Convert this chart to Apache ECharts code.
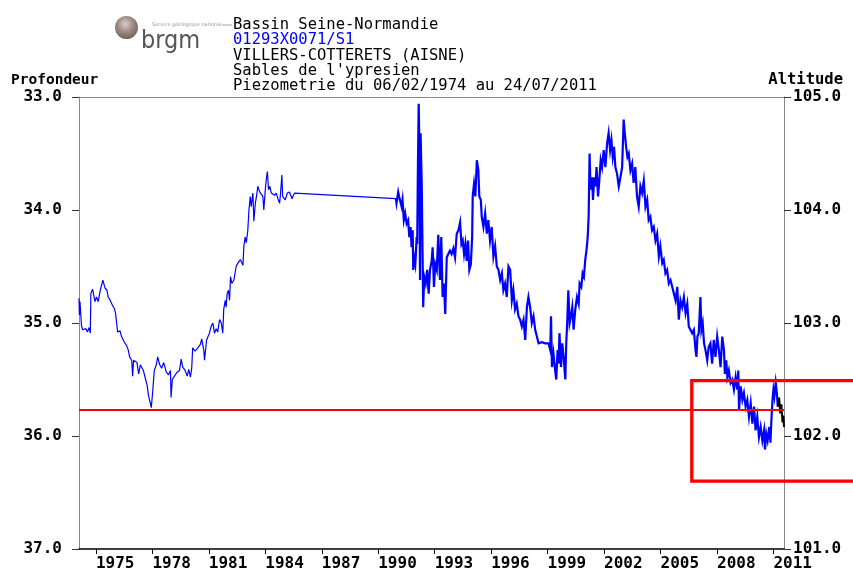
<!DOCTYPE html>
<html><head><meta charset="utf-8">
<script src="https://cdn.jsdelivr.net/npm/echarts@6/dist/echarts.min.js"></script>
<style>html,body{margin:0;padding:0;background:#fff}#c{width:853px;height:572px}</style>
</head><body><div id="c"></div>
<script>
// ---- data (decimal year, depth in m) ----
const years = [
1974.10,1974.12,1974.15,1974.20,1974.23,1974.29,1974.47,1974.55,1974.64,1974.70,1974.73,1974.82,1974.95,1975.03,1975.12,1975.23,1975.37,1975.48,1975.59,1975.65,1975.76,1975.87,1975.97,1976.04,1976.10,1976.15,1976.28,1976.36,1976.51,1976.63,1976.72,1976.79,1976.90,1976.95,1977.00,1977.18,1977.27,1977.36,1977.52,1977.61,1977.72,1977.79,1977.89,1977.94,1978.01,1978.10,1978.21,1978.28,1978.39,1978.49,1978.60,1978.73,1978.85,1978.96,1978.99,1979.06,1979.17,1979.29,1979.44,1979.53,1979.61,1979.74,1979.85,1979.93,1980.02,1980.09,1980.14,1980.27,1980.41,1980.55,1980.62,1980.73,1980.77,
1980.88,1981.03,1981.12,1981.21,1981.30,1981.39,1981.47,1981.57,1981.66,1981.74,1981.79,1981.87,1981.92,1981.97,1982.04,1982.10,1982.15,1982.22,1982.33,1982.45,1982.54,1982.68,1982.81,1982.86,1982.93,1982.99,1983.07,1983.13,1983.20,1983.25,1983.34,1983.39,1983.47,1983.54,1983.60,1983.70,1983.79,1983.87,1983.92,1984.00,1984.05,1984.11,1984.17,1984.24,1984.32,1984.42,1984.49,1984.58,1984.67,1984.76,1984.81,1984.88,1984.92,1984.99,1985.06,1985.17,1985.28,1985.35,1985.42,1985.49,1985.56,1990.94,
1990.97,1991.06,1991.11,1991.19,1991.24,1991.29,1991.36,1991.43,1991.51,1991.59,1991.65,1991.72,1991.77,1991.83,1991.86,1991.91,1991.97,1992.00,1992.04,1992.07,1992.11,1992.15,1992.18,1992.22,1992.25,1992.31,1992.34,1992.39,1992.44,1992.52,1992.60,1992.68,1992.75,1992.84,1992.89,1992.96,1993.03,1993.11,1993.19,1993.28,1993.35,1993.42,1993.49,1993.56,1993.64,1993.72,1993.81,1993.90,1993.99,1994.08,1994.17,1994.26,1994.35,1994.42,1994.49,1994.56,1994.63,1994.70,1994.77,1994.84,1994.92,1994.99,1995.02,1995.09,1995.16,1995.24,
1995.32,1995.37,1995.45,1995.50,1995.59,1995.68,1995.77,1995.85,1995.94,1996.03,1996.12,1996.21,1996.30,1996.39,1996.48,1996.57,1996.65,1996.74,1996.83,1996.92,1997.01,1997.10,1997.18,1997.27,1997.36,1997.45,1997.54,1997.63,1997.72,1997.81,1997.90,1997.98,1998.07,1998.16,1998.25,1998.34,1998.43,1998.52,1998.70,1998.87,1999.05,1999.14,1999.18,1999.23,1999.31,1999.40,1999.46,1999.53,1999.58,1999.63,1999.71,1999.78,1999.85,1999.94,1999.99,2000.04,2000.10,2000.17,2000.24,2000.31,2000.38,2000.47,2000.56,2000.65,2000.70,
2000.79,2000.86,2000.93,2001.00,2001.07,2001.13,2001.18,2001.23,2001.28,2001.36,2001.41,2001.48,2001.54,2001.60,2001.68,2001.75,2001.82,2001.89,2001.98,2002.07,2002.16,2002.24,2002.32,2002.39,2002.46,2002.53,2002.60,2002.69,2002.78,2002.87,2002.96,2003.04,2003.10,2003.17,2003.24,2003.31,2003.40,2003.49,2003.57,2003.66,2003.75,2003.84,2003.93,2004.02,2004.11,2004.20,2004.29,2004.37,2004.46,2004.55,2004.64,2004.73,2004.82,2004.91,2004.99,2005.09,2005.17,2005.26,2005.35,2005.44,2005.53,2005.62,2005.71,2005.80,2005.89,2005.97,2006.06,2006.15,2006.24,2006.33,2006.42,2006.50,
2006.59,2006.68,2006.77,2006.86,2006.91,2006.96,2007.03,2007.12,2007.17,2007.24,2007.31,2007.39,2007.48,2007.56,2007.65,2007.74,2007.83,2007.92,2008.01,2008.10,2008.19,2008.28,2008.37,2008.42,2008.49,2008.55,2008.63,2008.72,2008.81,2008.90,2008.99,2009.08,2009.13,2009.17,2009.26,2009.35,2009.43,2009.52,2009.61,2009.70,2009.79,2009.88,2009.97,2010.05,2010.14,2010.23,2010.32,2010.41,2010.50,2010.55,2010.62,2010.69,2010.78,2010.84,2010.89,2010.95,2011.00,2011.05,2011.12,2011.18,2011.23
];
const depths = [
34.78,34.93,34.81,34.94,35.02,35.06,35.05,35.08,35.04,35.09,34.74,34.70,34.81,34.77,34.81,34.71,34.62,34.69,34.71,34.77,34.80,34.84,34.87,34.91,35.00,35.08,35.07,35.12,35.17,35.20,35.24,35.30,35.33,35.47,35.33,35.35,35.45,35.37,35.42,35.48,35.55,35.64,35.71,35.75,35.62,35.42,35.37,35.30,35.37,35.40,35.35,35.43,35.46,35.42,35.66,35.50,35.47,35.44,35.42,35.32,35.39,35.42,35.47,35.41,35.48,35.40,35.22,35.25,35.22,35.19,35.14,35.24,35.33,
35.15,35.09,35.03,35.00,35.09,35.05,35.08,34.97,35.00,35.09,34.88,34.80,34.86,34.74,34.71,34.80,34.59,34.65,34.62,34.50,34.47,34.44,34.49,34.32,34.24,34.29,34.18,34.00,33.88,33.97,33.85,34.10,33.94,33.87,33.79,33.84,33.85,33.88,34.00,33.82,33.73,33.66,33.82,33.79,33.85,33.84,33.87,33.85,33.90,33.94,33.85,33.69,33.88,33.87,33.91,33.85,33.84,33.87,33.90,33.87,33.85,33.90,
33.94,33.84,33.88,33.87,33.97,33.91,34.09,34.03,34.12,34.09,34.24,34.15,34.33,34.18,34.53,34.42,34.48,34.39,34.24,34.30,33.59,33.06,33.38,34.62,33.32,33.77,34.18,34.86,34.59,34.65,34.53,34.74,34.53,34.45,34.33,34.68,34.48,34.53,34.22,34.62,34.24,34.77,34.65,34.92,34.42,34.39,34.36,34.39,34.34,34.42,34.21,34.18,34.11,34.30,34.27,34.39,34.30,34.45,34.27,34.53,34.48,34.24,33.88,33.77,33.88,33.56,
33.65,33.88,33.91,34.06,34.15,34.03,34.21,34.09,34.27,34.15,34.41,34.32,34.50,34.53,34.62,34.56,34.71,34.65,34.77,34.50,34.53,34.80,34.71,34.88,34.83,34.94,34.97,35.03,34.97,35.15,34.86,34.77,34.86,35.00,34.94,35.06,35.12,35.18,35.17,35.18,35.18,35.24,34.94,35.39,35.27,35.42,35.50,35.24,35.36,35.09,35.39,35.18,35.30,35.50,35.18,35.00,34.71,35.00,34.94,34.86,35.06,34.88,34.77,34.83,34.65,
34.68,34.56,34.59,34.44,34.35,34.24,34.06,33.50,33.82,33.71,33.91,33.71,33.79,33.62,33.88,33.73,33.56,33.62,33.47,33.62,33.41,33.32,33.47,33.38,33.53,33.44,33.62,33.68,33.79,33.71,33.62,33.20,33.32,33.44,33.53,33.50,33.65,33.59,33.76,33.62,33.88,33.97,33.79,33.85,33.74,33.97,33.91,34.09,34.06,34.18,34.15,34.27,34.21,34.41,34.32,34.47,34.44,34.56,34.53,34.65,34.62,34.68,34.74,34.80,34.68,34.97,34.80,34.86,34.77,34.91,34.83,35.03,
35.03,35.09,35.06,35.24,35.30,35.12,35.09,34.77,35.06,35.00,35.18,35.24,35.33,35.21,35.18,35.36,35.15,35.30,35.12,35.24,35.39,35.12,35.24,35.45,35.33,35.48,35.42,35.53,35.50,35.59,35.48,35.59,35.42,35.77,35.56,35.68,35.62,35.74,35.68,35.83,35.71,35.89,35.74,35.95,35.83,36.01,35.92,36.04,35.95,36.12,35.98,36.04,35.92,36.06,35.86,35.68,35.59,35.65,35.53,35.62,35.74
];
// latest (provisional) measurements drawn in black
const recentYears  = [2011.23,2011.30,2011.36,2011.42,2011.48,2011.53,2011.56];
const recentDepths = [35.74,35.66,35.80,35.72,35.88,35.82,35.92];

const yearTicks = [1975,1978,1981,1984,1987,1990,1993,1996,1999,2002,2005,2008,2011];
const depthRange = [33, 37];
const altitudeRange = [101, 105];
const refDepth = 35.77;
const denseFrom = 1990.94; // start of the daily (dense) record
const zoomBox = { fromYear: 2006.66, toYear: 2016, depthTop: 35.51, depthBottom: 36.40 };

const headerLines = [
  { text: 'Bassin Seine-Normandie', color: '#000' },
  { text: '01293X0071/S1', color: '#0000ff' },
  { text: 'VILLERS-COTTERETS (AISNE)', color: '#000' },
  { text: "Sables de l'ypresien", color: '#000' },
  { text: 'Piezometrie du 06/02/1974 au 24/07/2011', color: '#000' }
];

const MONO = '"DejaVu Sans Mono", monospace';
const chart = echarts.init(document.getElementById('c'), null, { renderer: 'canvas' });

const allData = years.map((y, i) => [y, depths[i]]);
const sparseData = allData.filter(d => d[0] <= denseFrom);
const denseData = allData.filter(d => d[0] >= denseFrom);
const recentData = recentYears.map((y, i) => [y, recentDepths[i]]);

const labelStyle = { color: '#000', fontFamily: MONO, fontWeight: 'bold', fontSize: 16 };

chart.setOption({
  animation: false,
  backgroundColor: '#fff',
  grid: { left: 79, right: 69, top: 97, bottom: 23 },
  xAxis: [{
    type: 'value', position: 'bottom', min: 1974.1, max: 2011.56,
    axisLine: { show: true, onZero: false, lineStyle: { color: '#000', width: 1.5 } },
    axisTick: { show: true, customValues: yearTicks, length: 5, lineStyle: { color: '#000' } },
    axisLabel: Object.assign({ customValues: yearTicks, align: 'left', margin: 7, formatter: v => String(Math.round(v)) }, labelStyle),
    splitLine: { show: false }
  }, {
    type: 'value', position: 'top', min: 1974.1, max: 2011.56,
    axisLine: { show: true, onZero: false, lineStyle: { color: '#888' } },
    axisTick: { show: false }, axisLabel: { show: false }, splitLine: { show: false }
  }],
  yAxis: [{
    type: 'value', position: 'left', inverse: true, min: depthRange[0], max: depthRange[1], interval: 1,
    axisLine: { show: true, onZero: false, lineStyle: { color: '#888' } },
    axisTick: { show: true, length: 7, lineStyle: { color: '#333' } },
    axisLabel: Object.assign({ margin: 17, formatter: v => v.toFixed(1) }, labelStyle),
    splitLine: { show: false }
  }, {
    type: 'value', position: 'right', min: altitudeRange[0], max: altitudeRange[1], interval: 1,
    axisLine: { show: true, onZero: false, lineStyle: { color: '#888' } },
    axisTick: { show: true, length: 7, lineStyle: { color: '#333' } },
    axisLabel: Object.assign({ margin: 9, formatter: v => v.toFixed(1) }, labelStyle),
    splitLine: { show: false }
  }],
  series: [{
    name: 'Profondeur', type: 'line', xAxisIndex: 0, yAxisIndex: 0,
    data: sparseData, showSymbol: false, symbol: 'none',
    lineStyle: { color: '#0000ff', width: 1.2 },
    markLine: {
      silent: true, symbol: 'none', label: { show: false },
      lineStyle: { color: '#ff0000', width: 2, type: 'solid' },
      data: [{ yAxis: refDepth }]
    },
    z: 3
  }, {
    name: 'Profondeur (journalier)', type: 'line', xAxisIndex: 0, yAxisIndex: 0,
    data: denseData, showSymbol: false, symbol: 'none',
    lineStyle: { color: '#0000ff', width: 2.2, join: 'miter' }, z: 3
  }, {
    name: 'Recent', type: 'line', xAxisIndex: 0, yAxisIndex: 0,
    data: recentData, showSymbol: false, symbol: 'none',
    lineStyle: { color: '#000', width: 2 }, z: 4
  }]
});

// zoom box rectangle derived from data coordinates
const p0 = chart.convertToPixel({ xAxisIndex: 0, yAxisIndex: 0 }, [zoomBox.fromYear, zoomBox.depthTop]);
const p1 = chart.convertToPixel({ xAxisIndex: 0, yAxisIndex: 0 }, [zoomBox.toYear, zoomBox.depthBottom]);

const graphics = [];
headerLines.forEach((l, i) => {
  graphics.push({ type: 'text', x: 233, y: 25 + i * 15.3,
    style: { text: l.text, fill: l.color, font: '15.5px ' + MONO, textVerticalAlign: 'middle' } });
});
graphics.push({ type: 'text', x: 11, y: 80,
  style: { text: 'Profondeur', fill: '#000', font: 'bold 14.5px ' + MONO, textVerticalAlign: 'middle' } });
graphics.push({ type: 'text', x: 843, y: 80,
  style: { text: 'Altitude', fill: '#000', font: 'bold 15.5px ' + MONO, textAlign: 'right', textVerticalAlign: 'middle' } });
// brgm logo
graphics.push({ type: 'circle', shape: { cx: 126.5, cy: 27.5, r: 11.5 },
  style: { fill: new echarts.graphic.RadialGradient(0.45, 0.35, 0.7, [
    { offset: 0, color: '#d8cfc8' }, { offset: 0.5, color: '#9a8a80' }, { offset: 1, color: '#6e5e55' }]) } });
graphics.push({ type: 'text', x: 141, y: 41,
  style: { text: 'brgm', fill: '#555', font: '25px "DejaVu Sans Condensed", "DejaVu Sans", sans-serif', textVerticalAlign: 'middle' } });
graphics.push({ type: 'text', x: 152, y: 25,
  style: { text: 'Service géologique national', fill: '#999', font: '5px "DejaVu Sans", sans-serif', textVerticalAlign: 'middle' } });
graphics.push({ type: 'line', shape: { x1: 222, y1: 25, x2: 232, y2: 25 }, style: { stroke: '#aaa', lineWidth: 1 } });
// red zoom box
graphics.push({ type: 'rect', z: 10,
  shape: { x: p0[0], y: p0[1], width: p1[0] - p0[0], height: p1[1] - p0[1] },
  style: { fill: 'none', stroke: '#ff0000', lineWidth: 3.3 } });

chart.setOption({ graphic: graphics });
</script>
</body></html>
